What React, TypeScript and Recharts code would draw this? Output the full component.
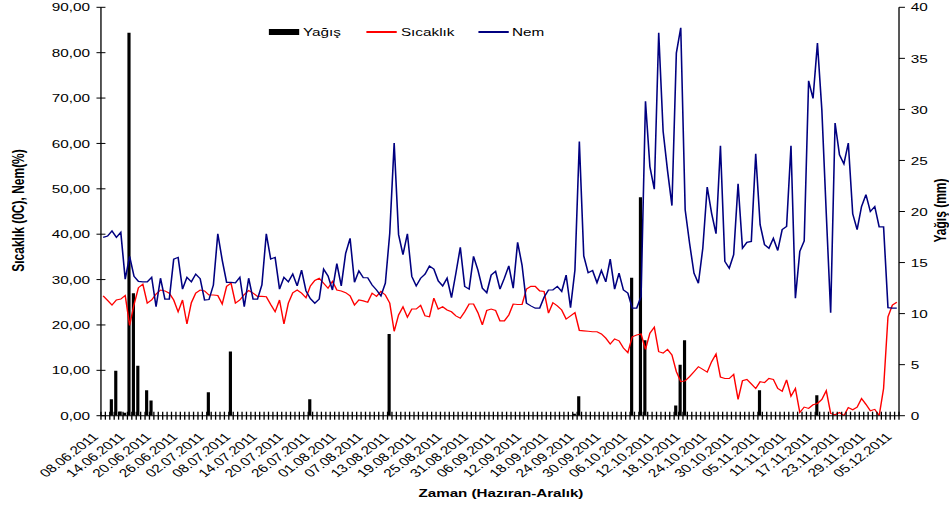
import React from 'react';
import { ComposedChart, Bar, Line, XAxis, YAxis, Legend } from 'recharts';

// ---- data ----
const START = { day: 8, month: 6, year: 2011 };
const MONTH_DAYS = [31, 28, 31, 30, 31, 30, 31, 31, 30, 31, 30, 31];
const DAY_COUNT = 181;

const tickLabels = [
  '08.06.2011', '14.06.2011', '20.06.2011', '26.06.2011', '02.07.2011', '08.07.2011',
  '14.07.2011', '20.07.2011', '26.07.2011', '01.08.2011', '07.08.2011', '13.08.2011',
  '19.08.2011', '25.08.2011', '31.08.2011', '06.09.2011', '12.09.2011', '18.09.2011',
  '24.09.2011', '30.09.2011', '06.10.2011', '12.10.2011', '18.10.2011', '24.10.2011',
  '30.10.2011', '05.11.2011', '11.11.2011', '17.11.2011', '23.11.2011', '29.11.2011',
  '05.12.2011',
];

const leftTicks = [0, 10, 20, 30, 40, 50, 60, 70, 80, 90];
const rightTicks = [0, 5, 10, 15, 20, 25, 30, 35, 40];

// Yağış (mm) - right axis
const yagis = [
  0, 0, 1.6, 4.4, 0.4, 0.3, 37.5, 12.0, 4.9, 0,
  2.5, 1.5, 0, 0, 0, 0, 0, 0, 0, 0,
  0, 0, 0, 0, 2.3, 0, 0, 0, 0, 6.3,
  0, 0, 0, 0, 0, 0, 0, 0, 0, 0,
  0, 0, 0, 0, 0, 0, 0, 1.6, 0, 0,
  0, 0, 0, 0, 0, 0, 0, 0, 0, 0,
  0, 0, 0, 0, 0, 8.0, 0, 0, 0, 0,
  0, 0, 0, 0, 0, 0, 0, 0, 0, 0,
  0, 0, 0, 0, 0, 0, 0, 0, 0, 0,
  0, 0, 0, 0, 0, 0, 0, 0, 0, 0,
  0, 0, 0, 0, 0, 0, 0, 0.2, 1.9, 0,
  0, 0, 0, 0, 0, 0, 0, 0, 0, 0,
  13.5, 0, 21.4, 7.4, 0, 0, 0, 0, 0, 0,
  1.0, 5.0, 7.4, 0, 0, 0, 0, 0, 0, 0,
  0, 0, 0, 0, 0, 0, 0, 0, 0, 2.5,
  0, 0, 0, 0, 0, 0, 0, 0, 0, 0,
  0, 0, 2.0, 0, 0, 0, 0, 0, 0, 0,
  0, 0, 0, 0, 0, 0, 0, 0, 0, 0,
  0,
];

// Sıcaklık (0C) - left axis
const sicaklik = [
  26.4, 25.4, 24.4, 25.5, 25.7, 26.5, 19.9, 24.5, 28.2, 29.0,
  24.8, 25.5, 26.8, 27.7, 27.5, 27.0, 25.5, 22.9, 25.5, 20.2,
  24.9, 27.0, 27.7, 27.5, 26.6, 26.6, 26.5, 24.6, 28.5, 29.2,
  24.8, 25.5, 26.7, 27.6, 27.0, 26.3, 26.3, 26.2, 24.5, 22.9,
  25.5, 20.2, 24.8, 27.1, 27.7, 27.0, 26.0, 28.6, 29.8, 30.3,
  29.2, 28.1, 29.6, 27.7, 27.5, 27.1, 26.4, 24.4, 25.5, 25.3,
  25.0, 27.0, 26.3, 27.4, 26.6, 24.8, 18.6, 22.2, 24.0, 21.7,
  23.5, 23.5, 24.3, 22.0, 21.8, 25.9, 23.5, 24.0, 23.3, 22.9,
  22.0, 21.5, 22.9, 24.6, 24.6, 22.7, 20.0, 23.2, 23.5, 23.2,
  20.9, 20.9, 22.2, 24.6, 24.5, 24.5, 27.9, 28.5, 28.5, 27.5,
  27.4, 22.6, 24.9, 24.2, 23.3, 21.3, 22.0, 22.7, 18.8, 18.7,
  18.6, 18.5, 18.5, 18.0, 17.1, 15.8, 16.9, 16.5, 14.9, 13.9,
  17.4, 17.8, 18.0, 14.6, 18.2, 19.5, 14.1, 13.8, 14.6, 13.4,
  9.7, 7.5, 7.7, 8.6, 9.7, 10.8, 10.2, 9.6, 11.9, 13.6,
  8.5, 8.2, 8.2, 9.1, 3.6, 7.7, 8.0, 7.0, 6.0, 7.5,
  7.3, 8.2, 8.0, 6.0, 5.4, 7.9, 4.3, 6.0, 0.7, 1.9,
  1.6, 2.4, 2.7, 3.6, 5.5, 0.5, 0.2, 0.7, 0.0, 1.8,
  1.3, 1.9, 3.8, 2.5, 1.1, 1.4, 0.0, 6.0, 21.8, 24.4,
  25.0,
];

// Nem (%) - left axis
const nem = [
  39.3, 39.6, 40.7, 39.3, 40.4, 30.1, 35.1, 30.7, 29.6, 29.5,
  29.5, 30.5, 24.0, 30.3, 25.7, 25.7, 34.5, 34.9, 27.9, 30.5,
  29.5, 31.2, 30.2, 25.5, 25.6, 28.8, 40.1, 34.3, 29.4, 29.4,
  29.3, 30.5, 24.0, 30.3, 25.7, 25.7, 28.8, 40.1, 34.5, 34.9,
  27.9, 30.5, 29.5, 31.2, 28.6, 32.1, 27.5, 25.8, 24.8, 25.7,
  32.3, 30.8, 27.7, 33.5, 28.6, 35.8, 39.1, 29.4, 31.9, 30.4,
  30.4, 28.8, 27.7, 26.4, 29.2, 40.2, 60.1, 39.9, 35.5, 40.1,
  30.7, 28.6, 30.3, 31.2, 33.0, 32.3, 29.7, 28.6, 30.3, 26.0,
  31.4, 37.1, 28.5, 27.9, 35.1, 32.1, 28.1, 27.1, 31.0, 31.8,
  27.9, 30.3, 33.0, 28.1, 38.2, 33.2, 24.8, 24.2, 23.7, 23.7,
  26.1, 27.7, 27.7, 28.5, 27.4, 31.0, 23.8, 32.1, 60.4, 35.2,
  31.5, 32.0, 29.3, 32.0, 29.5, 34.5, 27.9, 31.4, 27.7, 27.0,
  23.7, 23.7, 26.3, 69.3, 54.9, 49.9, 84.4, 62.7, 54.0, 46.3,
  79.9, 85.5, 45.4, 38.0, 31.4, 29.2, 36.9, 50.4, 44.6, 40.1,
  59.5, 34.0, 32.5, 35.5, 51.1, 36.9, 38.2, 38.4, 57.7, 42.1,
  37.7, 36.9, 39.1, 36.4, 41.0, 41.7, 59.5, 25.9, 36.2, 38.5,
  73.8, 69.9, 82.1, 67.4, 44.6, 22.7, 64.5, 57.5, 55.5, 60.1,
  44.5, 41.0, 46.1, 48.7, 45.0, 46.1, 41.6, 41.6, 23.8, 23.7,
  23.7,
];

// ---- categories (daily dates) ----
function pad(n: number) {
  return n < 10 ? '0' + n : String(n);
}
const dates: string[] = [];
{
  let d = START.day;
  let m = START.month;
  for (let i = 0; i < DAY_COUNT; i++) {
    dates.push(`${pad(d)}.${pad(m)}.${START.year}`);
    d += 1;
    if (d > MONTH_DAYS[m - 1]) {
      d = 1;
      m += 1;
    }
  }
}

const data = dates.map((date, i) => ({
  date,
  yagis: yagis[i],
  sicaklik: sicaklik[i],
  nem: nem[i],
}));

const tickLabelSet = new Set(tickLabels);

// ---- layout (inner, un-stretched coordinates) ----
const STRETCH = 1.318;
const INNER_W = 720;
const H = 506;
const PLOT_LEFT = 76.6;
const PLOT_RIGHT = 682.1;
const PLOT_TOP = 7.3;
const PLOT_BOTTOM = 415.7;
const FONT = '"Liberation Sans", Arial, sans-serif';
const BAND = (PLOT_RIGHT - PLOT_LEFT) / DAY_COUNT;

const XTick = (props: any) => {
  const { x, y, payload, index } = props;
  const bx = x - BAND / 2;
  const show = tickLabelSet.has(payload.value);
  const ax = x - 3;
  const ay = y + 22;
  return (
    <g>
      <line x1={bx} x2={bx} y1={y - 4} y2={y + 4} stroke="#000" strokeWidth={1} />
      {index === DAY_COUNT - 1 && (
        <line x1={x + BAND / 2} x2={x + BAND / 2} y1={y - 4} y2={y + 4} stroke="#000" strokeWidth={1} />
      )}
      {show && (
        <text
          x={ax}
          y={ay}
          transform={`rotate(-45 ${ax} ${ay})`}
          textAnchor="end"
          fontSize={11.6}
          fontFamily={FONT}
          fill="#000"
        >
          {payload.value}
        </text>
      )}
    </g>
  );
};

const LeftTick = (props: any) => {
  const { x, y, payload } = props;
  return (
    <g>
      <line x1={x - 3.4} x2={x + 3.4} y1={y} y2={y} stroke="#000" strokeWidth={1} />
      <text x={x - 8.3} y={y} dy="0.36em" textAnchor="end" fontSize={11.6} fontFamily={FONT} fill="#000">
        {Number(payload.value).toFixed(2).replace('.', ',')}
      </text>
    </g>
  );
};

const RightTick = (props: any) => {
  const { x, y, payload } = props;
  return (
    <g>
      <line x1={x} x2={x + 4.5} y1={y} y2={y} stroke="#000" strokeWidth={1} />
      <text x={x + 9} y={y} dy="0.36em" textAnchor="start" fontSize={11.6} fontFamily={FONT} fill="#000">
        {payload.value}
      </text>
    </g>
  );
};

const LeftTitle = () => (
  <text
    x={13.9}
    y={210.5}
    transform="rotate(-90 13.9 210.5)"
    textAnchor="middle"
    dy="0.35em"
    fontSize={12}
    fontWeight="bold"
    fontFamily={FONT}
    fill="#000"
  >
    Sıcaklık (0C), Nem(%)
  </text>
);

const RightTitle = () => (
  <text
    x={713.3}
    y={210.5}
    transform="rotate(-90 713.3 210.5)"
    textAnchor="middle"
    dy="0.35em"
    fontSize={12}
    fontWeight="bold"
    fontFamily={FONT}
    fill="#000"
  >
    Yağış (mm)
  </text>
);

const BottomTitle = () => (
  <text
    x={380.1}
    y={493}
    textAnchor="middle"
    dy="0.35em"
    fontSize={11.5}
    fontWeight="bold"
    fontFamily={FONT}
    fill="#000"
  >
    Zaman (Hazıran-Aralık)
  </text>
);

const LegendContent = () => {
  const txt: React.CSSProperties = {
    position: 'absolute',
    top: 25,
    lineHeight: '14px',
    fontSize: 11.6,
    fontFamily: FONT,
    color: '#000',
    whiteSpace: 'nowrap',
  };
  return (
    <div style={{ position: 'relative', width: INNER_W, height: 50 }}>
      <div style={{ position: 'absolute', left: 204, top: 29.2, width: 23.4, height: 5.5, background: '#000' }} />
      <span style={{ ...txt, left: 229.9 }}>Yağış</span>
      <div style={{ position: 'absolute', left: 278.2, top: 31.4, width: 22.8, height: 1.3, background: '#ff0000' }} />
      <span style={{ ...txt, left: 304.2 }}>Sıcaklık</span>
      <div style={{ position: 'absolute', left: 362.7, top: 31.4, width: 23.5, height: 1.3, background: '#000080' }} />
      <span style={{ ...txt, left: 388.5 }}>Nem</span>
    </div>
  );
};

export default function App() {
  return (
    <div style={{ position: 'absolute', left: 0, top: 0, width: 949, height: H, overflow: 'hidden', background: '#fff' }}>
      <div style={{ width: INNER_W, height: H, transform: `scaleX(${STRETCH})`, transformOrigin: '0 0' }}>
        <ComposedChart
          width={INNER_W}
          height={H}
          data={data}
          margin={{ top: PLOT_TOP, right: 0, bottom: 0, left: 0 }}
        >
          <XAxis
            dataKey="date"
            height={H - PLOT_BOTTOM}
            interval={0}
            tick={<XTick />}
            tickLine={false}
            tickSize={0}
            tickMargin={0}
            axisLine={{ stroke: '#000', strokeWidth: 1 }}
            label={<BottomTitle />}
          />
          <YAxis
            yAxisId="left"
            orientation="left"
            width={PLOT_LEFT}
            domain={[0, 90]}
            ticks={leftTicks}
            interval={0}
            tick={<LeftTick />}
            tickLine={false}
            tickSize={0}
            tickMargin={0}
            axisLine={{ stroke: '#000', strokeWidth: 1 }}
            allowDataOverflow
            label={<LeftTitle />}
          />
          <YAxis
            yAxisId="right"
            orientation="right"
            width={INNER_W - PLOT_RIGHT}
            domain={[0, 40]}
            ticks={rightTicks}
            interval={0}
            tick={<RightTick />}
            tickLine={false}
            tickSize={0}
            tickMargin={0}
            axisLine={{ stroke: '#000', strokeWidth: 1 }}
            allowDataOverflow
            label={<RightTitle />}
          />
          <Legend
            verticalAlign="middle"
            align="center"
            layout="horizontal"
            wrapperStyle={{ left: 0, top: 0, width: INNER_W, height: 50 }}
            content={<LegendContent />}
          />
          <Bar yAxisId="right" dataKey="yagis" name="Yağış" fill="#000" barSize={2.4} isAnimationActive={false} />
          <Line
            yAxisId="left"
            type="linear"
            dataKey="sicaklik"
            name="Sıcaklık"
            stroke="#ff0000"
            strokeWidth={1.1}
            dot={false}
            activeDot={false}
            isAnimationActive={false}
          />
          <Line
            yAxisId="left"
            type="linear"
            dataKey="nem"
            name="Nem"
            stroke="#000080"
            strokeWidth={1.2}
            dot={false}
            activeDot={false}
            isAnimationActive={false}
          />
        </ComposedChart>
      </div>
    </div>
  );
}
